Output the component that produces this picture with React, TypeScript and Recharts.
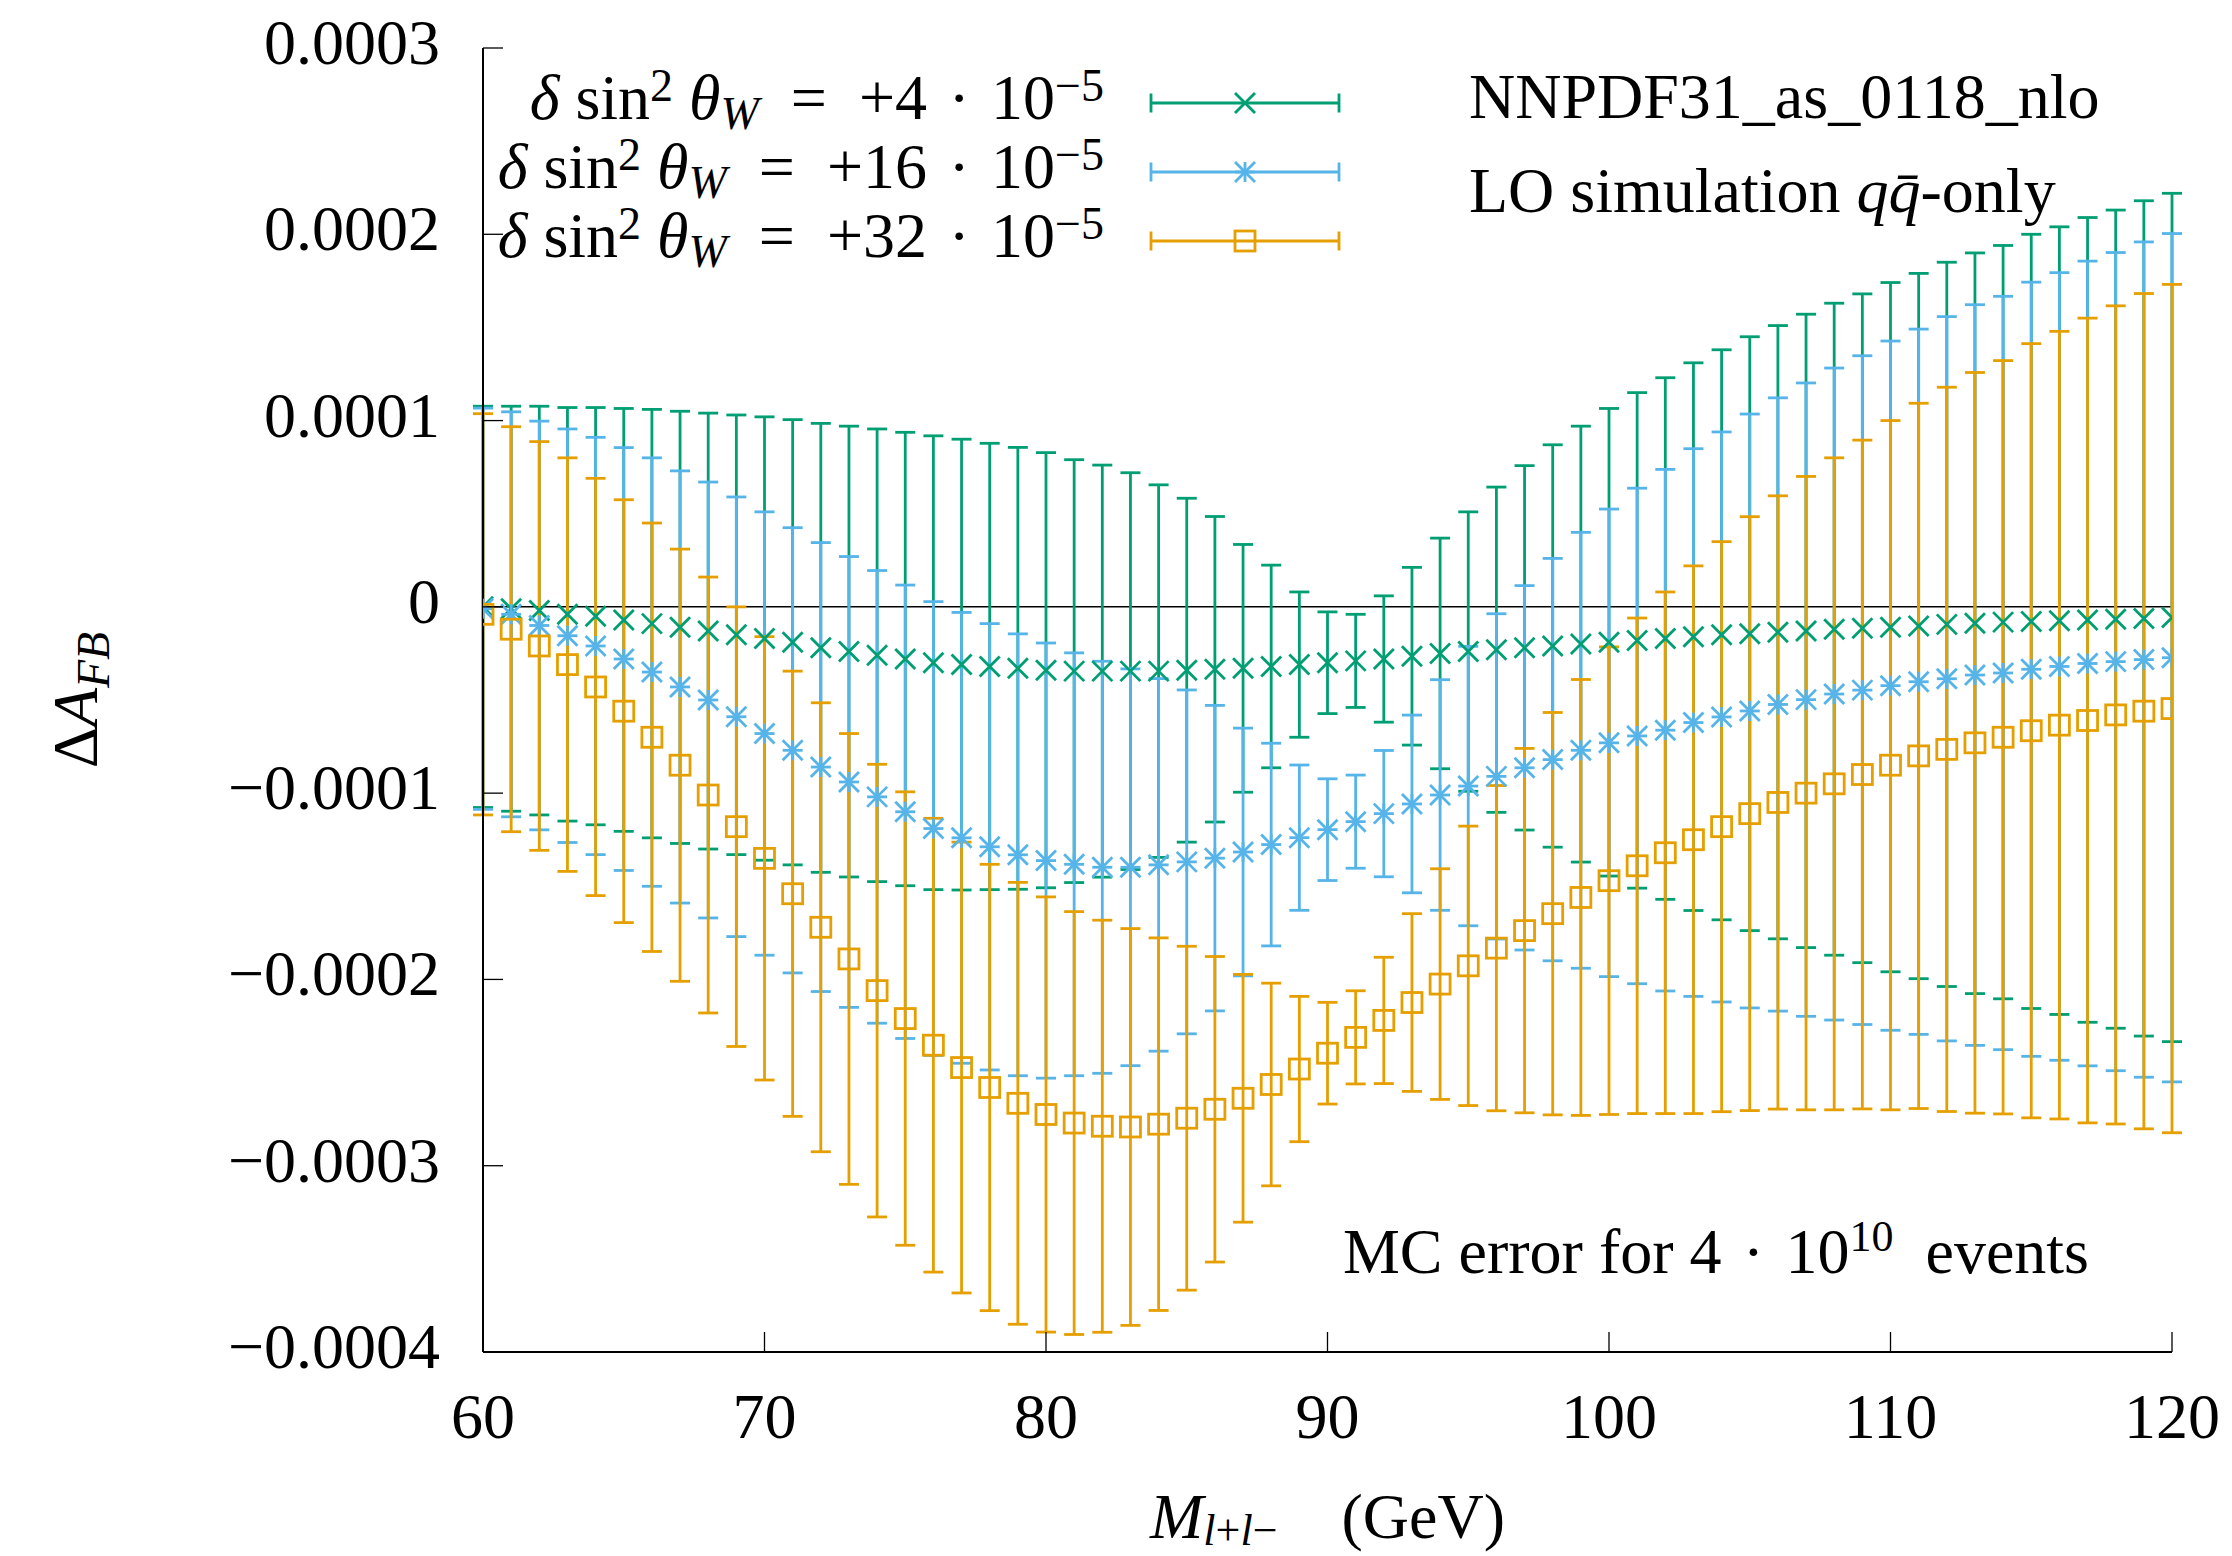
import {
  ComposedChart,
  Scatter,
  ErrorBar,
  XAxis,
  YAxis,
  ReferenceLine,
  Legend,
} from "recharts";

const FONT = "Liberation Serif, DejaVu Serif, Noto Serif, serif";
const GREEN = "#009e73";
const BLUE = "#56b4e9";
const ORANGE = "#e69f00";

// dilepton invariant mass bins (GeV)
const masses = [
  60, 61, 62, 63, 64, 65, 66, 67, 68, 69,
  70, 71, 72, 73, 74, 75, 76, 77, 78, 79,
  80, 81, 82, 83, 84, 85, 86, 87, 88, 89,
  90, 91, 92, 93, 94, 95, 96, 97, 98, 99,
  100, 101, 102, 103, 104, 105, 106, 107, 108, 109,
  110, 111, 112, 113, 114, 115, 116, 117, 118, 119,
  120,
];

// ΔA_FB, in units of 1e-4
const shift4 = [
  0.0, -0.01, -0.02, -0.04, -0.05, -0.07, -0.09, -0.11, -0.13, -0.15,
  -0.17, -0.19, -0.22, -0.24, -0.26, -0.28, -0.3, -0.31, -0.32, -0.33,
  -0.34, -0.345, -0.345, -0.345, -0.345, -0.34, -0.335, -0.33, -0.32, -0.31,
  -0.3, -0.29, -0.28, -0.265, -0.25, -0.24, -0.23, -0.22, -0.21, -0.2,
  -0.19, -0.18, -0.17, -0.16, -0.15, -0.144, -0.136, -0.129, -0.12, -0.115,
  -0.109, -0.103, -0.094, -0.088, -0.082, -0.078, -0.074, -0.07, -0.066, -0.062,
  -0.057,
];

const shift16 = [
  -0.01, -0.04, -0.1, -0.155, -0.21, -0.28, -0.35, -0.43, -0.5, -0.59,
  -0.68, -0.77, -0.86, -0.94, -1.02, -1.1, -1.19, -1.24, -1.288, -1.331,
  -1.362, -1.382, -1.398, -1.398, -1.385, -1.369, -1.349, -1.316, -1.276, -1.239,
  -1.196, -1.153, -1.11, -1.058, -1.01, -0.962, -0.91, -0.864, -0.82, -0.77,
  -0.73, -0.693, -0.662, -0.621, -0.591, -0.559, -0.524, -0.498, -0.468, -0.447,
  -0.423, -0.402, -0.386, -0.366, -0.355, -0.335, -0.32, -0.304, -0.294, -0.283,
  -0.273,
];

const shift32 = [
  -0.04, -0.12, -0.21, -0.31, -0.43, -0.56, -0.7, -0.85, -1.01, -1.18,
  -1.35, -1.54, -1.72, -1.89, -2.06, -2.21, -2.353, -2.473, -2.58, -2.665,
  -2.725, -2.771, -2.788, -2.792, -2.777, -2.745, -2.697, -2.638, -2.564, -2.481,
  -2.396, -2.311, -2.22, -2.124, -2.025, -1.927, -1.832, -1.738, -1.647, -1.56,
  -1.47, -1.39, -1.32, -1.25, -1.18, -1.11, -1.05, -1.0, -0.95, -0.9,
  -0.85, -0.8, -0.765, -0.73, -0.7, -0.665, -0.635, -0.61, -0.58, -0.56,
  -0.546,
];

// MC statistical error (same sample for all three shifts), units of 1e-4
const mcError = [
  1.077, 1.087, 1.097, 1.11, 1.12, 1.135, 1.15, 1.16, 1.17, 1.18,
  1.19, 1.195, 1.205, 1.21, 1.215, 1.217, 1.218, 1.21, 1.198, 1.186,
  1.168, 1.135, 1.106, 1.065, 1.0, 0.923, 0.82, 0.665, 0.544, 0.39,
  0.273, 0.25, 0.339, 0.477, 0.619, 0.75, 0.873, 0.978, 1.08, 1.17,
  1.255, 1.33, 1.4, 1.47, 1.53, 1.594, 1.646, 1.7, 1.75, 1.795,
  1.85, 1.893, 1.944, 1.988, 2.022, 2.078, 2.114, 2.16, 2.196, 2.242,
  2.277,
];

const xTicks = [60, 70, 80, 90, 100, 110, 120];
const yTicks = [-4, -3, -2, -1, 0, 1, 2, 3];
const yTickLabels = ["−0.0004", "−0.0003", "−0.0002", "−0.0001", "0", "0.0001", "0.0002", "0.0003"];

const rows = masses.map((m, i) => ({
  m,
  g: shift4[i],
  b: shift16[i],
  o: shift32[i],
  err: mcError[i],
}));

const series = [
  { key: "g", shift: "+4", color: GREEN, kind: "cross" },
  { key: "b", shift: "+16", color: BLUE, kind: "star" },
  { key: "o", shift: "+32", color: ORANGE, kind: "square" },
];

const TICK_LEN = 20;
const FS = 64;
const FRAME = { stroke: "#000", strokeWidth: 2 };
const TICK = { stroke: "#000", strokeWidth: 1.3 };
const LW = 2.8;

function Marker({ kind, cx, cy, color }: any) {
  const r = 10;
  if (kind === "square") {
    return <rect x={cx - r} y={cy - r} width={2 * r} height={2 * r} fill="none" stroke={color} strokeWidth={LW} />;
  }
  return (
    <g stroke={color} strokeWidth={LW}>
      <line x1={cx - r} y1={cy - r} x2={cx + r} y2={cy + r} />
      <line x1={cx - r} y1={cy + r} x2={cx + r} y2={cy - r} />
      {kind === "star" && <line x1={cx - r} y1={cy} x2={cx + r} y2={cy} />}
      {kind === "star" && <line x1={cx} y1={cy - r} x2={cx} y2={cy + r} />}
    </g>
  );
}

function XTick(props: any) {
  const { x, y, payload } = props;
  return (
    <g>
      <line x1={x} x2={x} y1={y} y2={y - TICK_LEN} {...TICK} />
      <text x={x} y={y + 86} textAnchor="middle" fontSize={FS} style={{ fontFamily: FONT }} fill="#000">
        {payload.value}
      </text>
    </g>
  );
}

function YTick(props: any) {
  const { x, y, payload } = props;
  const label = yTickLabels[yTicks.indexOf(payload.value)];
  return (
    <g>
      <line x1={x} x2={x + TICK_LEN} y1={y} y2={y} {...TICK} />
      <text x={x - 43} y={y + 16} textAnchor="end" fontSize={FS} style={{ fontFamily: FONT }} fill="#000">
        {label}
      </text>
    </g>
  );
}

function XTitle(props: any) {
  const vb = props.viewBox ?? { x: 483, y: 1352, width: 1689, height: 204 };
  const cx = vb.x + vb.width / 2;
  return (
    <text x={cx} y={vb.y + 186} textAnchor="middle" fontSize={FS} style={{ fontFamily: FONT }} fill="#000">
      <tspan fontStyle="italic">M</tspan>
      <tspan fontSize={44} dy={7}>
        <tspan fontStyle="italic">l</tspan>+<tspan fontStyle="italic">l</tspan>−
      </tspan>
      <tspan dy={-7}>{"\u2003(GeV)"}</tspan>
    </text>
  );
}

function YTitle(props: any) {
  const vb = props.viewBox ?? { x: 0, y: 48, width: 483, height: 1304 };
  const cx = vb.x + 97;
  const cy = vb.y + vb.height / 2;
  return (
    <text x={cx} y={cy} transform={`rotate(-90 ${cx} ${cy})`} textAnchor="middle" fontSize={FS} style={{ fontFamily: FONT }} fill="#000">
      Δ<tspan fontStyle="italic">A</tspan>
      <tspan fontStyle="italic" fontSize={46} dy={12}>FB</tspan>
    </text>
  );
}

function KeyContent() {
  const rowY = [103, 172, 241];
  return (
    <svg width={2232} height={1556} style={{ position: "absolute", left: 0, top: 0, overflow: "visible", fontFamily: FONT }}>
      {series.map((s, i) => {
        const y = rowY[i];
        return (
          <g key={s.key}>
            <text x={1104} y={y + 16} textAnchor="end" fontSize={FS} fill="#000">
              <tspan fontStyle="italic">δ</tspan>
              <tspan>{"\u2005sin"}</tspan>
              <tspan fontSize={46} dy={-18}>2</tspan>
              <tspan dy={18}>{"\u2005"}</tspan>
              <tspan fontStyle="italic">θ</tspan>
              <tspan fontStyle="italic" fontSize={46} dy={10}>W</tspan>
              <tspan dy={-10}>{`\u2002=\u2002${s.shift}\u2004·\u200410`}</tspan>
              <tspan fontSize={46} dy={-18}>−5</tspan>
            </text>
            <g stroke={s.color} strokeWidth={LW}>
              <line x1={1151} x2={1339} y1={y} y2={y} />
              <line x1={1151} x2={1151} y1={y - 9.5} y2={y + 9.5} />
              <line x1={1339} x2={1339} y1={y - 9.5} y2={y + 9.5} />
            </g>
            <Marker kind={s.kind} cx={1245} cy={y} color={s.color} />
          </g>
        );
      })}
      <text x={1469} y={118} fontSize={FS} fill="#000">NNPDF31_as_0118_nlo</text>
      <text x={1469} y={212} fontSize={FS} fill="#000">
        LO simulation <tspan fontStyle="italic">{"qq\u0304"}</tspan>-only
      </text>
      <text x={2089} y={1273} textAnchor="end" fontSize={FS} fill="#000">
        {"MC error for 4\u2004·\u200410"}
        <tspan fontSize={44} dy={-22}>10</tspan>
        <tspan dy={22}>{"\u2002events"}</tspan>
      </text>
    </svg>
  );
}

export default function App() {
  return (
    <div style={{ position: "absolute", left: 0, top: 0, width: 2232, height: 1556, background: "#fff", fontFamily: FONT }}>
      <ComposedChart width={2232} height={1556} data={rows} margin={{ top: 48, right: 60, bottom: 0, left: 0 }}>
        <XAxis
          xAxisId="x"
          dataKey="m"
          type="number"
          domain={[60, 120]}
          ticks={xTicks}
          interval={0}
          allowDataOverflow
          height={204}
          tickSize={0}
          tickMargin={0}
          tickLine={false}
          tick={<XTick />}
          axisLine={FRAME}
          label={<XTitle />}
        />
        <XAxis
          xAxisId="top"
          orientation="top"
          type="number"
          domain={[60, 120]}
          ticks={xTicks}
          interval={0}
          allowDataOverflow
          mirror
          height={0}
          tickSize={TICK_LEN}
          tick={false}
          tickLine={TICK}
          axisLine={FRAME}
        />
        <YAxis
          yAxisId="y"
          type="number"
          domain={[-4, 3]}
          ticks={yTicks}
          interval={0}
          allowDataOverflow
          width={483}
          tickSize={0}
          tickMargin={0}
          tickLine={false}
          tick={<YTick />}
          axisLine={FRAME}
          label={<YTitle />}
        />
        <YAxis
          yAxisId="r"
          orientation="right"
          type="number"
          domain={[-4, 3]}
          ticks={yTicks}
          interval={0}
          allowDataOverflow
          mirror
          width={0}
          tickSize={TICK_LEN}
          tick={false}
          tickLine={TICK}
          axisLine={FRAME}
        />
        <ReferenceLine xAxisId="x" yAxisId="y" y={0} stroke="#000" strokeWidth={1.5} />
        {series.map((s) => (
          <Scatter
            key={s.key}
            name={`δ sin² θW = ${s.shift}·10⁻⁵`}
            dataKey={s.key}
            xAxisId="x"
            yAxisId="y"
            fill={s.color}
            isAnimationActive={false}
            shape={(p: any) => <Marker kind={s.kind} cx={p.cx} cy={p.cy} color={s.color} />}
          >
            <ErrorBar
              dataKey="err"
              direction="y"
              width={10}
              strokeWidth={LW}
              stroke={s.color}
              isAnimationActive={false}
            />
          </Scatter>
        ))}
        <Legend
          layout="vertical"
          align="center"
          verticalAlign="middle"
          content={<KeyContent />}
          wrapperStyle={{ left: 0, top: 0, width: 2232, height: 1556, pointerEvents: "none" }}
        />
      </ComposedChart>
    </div>
  );
}
